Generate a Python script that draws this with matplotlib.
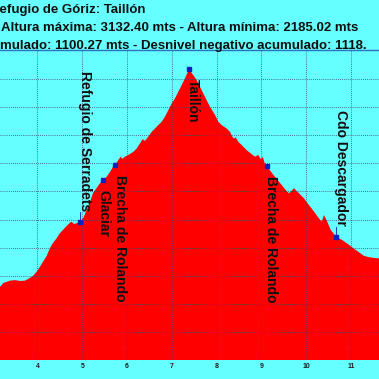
import numpy as np
import matplotlib.pyplot as plt

# profile: distance (km) / altitude (m)
dist = [3.163, 3.237, 3.386, 3.498, 3.609, 3.721, 3.833, 3.900, 3.982, 4.056,
        4.123, 4.205, 4.279, 4.346, 4.429, 4.502, 4.569, 4.652, 4.725, 4.763,
        4.815, 4.875, 4.949, 5.022, 5.098, 5.172, 5.239, 5.321, 5.395, 5.469,
        5.545, 5.619, 5.686, 5.730, 5.804, 5.857, 5.893, 5.953, 6.027, 6.138,
        6.214, 6.288, 6.348, 6.400, 6.473, 6.549, 6.623, 6.696, 6.772, 6.846,
        6.920, 6.996, 7.069, 7.143, 7.219, 7.292, 7.382, 7.478, 7.554, 7.627,
        7.739, 7.850, 7.962, 8.036, 8.112, 8.223, 8.297, 8.371, 8.424, 8.482,
        8.558, 8.670, 8.781, 8.855, 8.929, 8.989, 9.027, 9.078, 9.116, 9.234,
        9.391, 9.540, 9.614, 9.725, 9.837, 9.949, 10.060, 10.172, 10.283, 10.344,
        10.395, 10.469, 10.545, 10.674, 10.804, 10.953, 11.103, 11.288, 11.438, 11.623]
alt = [2361, 2375, 2383, 2385, 2382, 2383, 2393, 2400, 2415, 2433,
       2450, 2471, 2499, 2517, 2534, 2552, 2563, 2577, 2589, 2592,
       2584, 2587, 2590, 2605, 2634, 2663, 2694, 2712, 2729, 2740,
       2752, 2769, 2787, 2793, 2811, 2823, 2815, 2823, 2829, 2840,
       2852, 2870, 2885, 2879, 2894, 2911, 2923, 2935, 2947, 2965,
       2988, 3012, 3030, 3053, 3077, 3101, 3132.4, 3112, 3094, 3071,
       3035, 3000, 2971, 2947, 2935, 2923, 2911, 2888, 2891, 2876,
       2864, 2846, 2832, 2823, 2829, 2813, 2823, 2797, 2791, 2765,
       2734, 2705, 2693, 2711, 2693, 2675, 2651, 2628, 2604, 2592,
       2616, 2592, 2563, 2538, 2527, 2510, 2492, 2471, 2465, 2462]

# waypoints: name, km, altitude, label above (True) or below
wp_names = ["Refugio de Serradets", "Glaciar", "Brecha de Rolando", "Taillón",
            "Brecha de Rolando", "Cdo Descargador"]
wp_km = [4.949, 5.469, 5.730, 7.382, 9.116, 10.674]
wp_alt = [2590, 2740, 2793, 3132.4, 2791, 2538]
wp_above = [True, False, False, False, False, True]

title_lines = ["Refugio de Góriz: Taillón",
               "Altura máxima: 3132.40 mts - Altura mínima: 2185.02 mts",
               "mulado: 1100.27 mts - Desnivel negativo acumulado: 1118."]

plt.rcParams['font.family'] = ['Liberation Sans', 'DejaVu Sans']

fig = plt.figure(figsize=(3.79, 3.79), dpi=100)
fig.patch.set_facecolor('#66ffff')
ax = fig.add_axes([0, 0.049, 1, 0.818])
ax.set_facecolor('#66ffff')

ax.fill_between(dist, 2100, alt, color='#ff0000', lw=0, zorder=1)
ax.plot(wp_km, wp_alt, 's', ms=2.2, color='#1020c0', zorder=4)

ax.set_xlim(3.163, 11.623)
ax.set_ylim(2100, 3200)
ax.set_xticks(range(4, 12))
ax.set_yticks(np.arange(2100, 3201, 100))
ax.grid(True, color='#404068', ls=(0, (1, 1.5)), lw=0.6, zorder=2)
ax.tick_params(axis='x', length=0, pad=2, labelsize=5, labelcolor='#202020')
ax.tick_params(axis='y', length=0, labelleft=False)
for lab in ax.get_xticklabels():
    lab.set_fontweight('bold')
for s in ['left', 'right', 'bottom']:
    ax.spines[s].set_visible(False)
ax.spines['top'].set_color('#3070c0')
ax.spines['top'].set_linewidth(1)

# waypoint labels, vertical, reading downwards
x_shift = [0.11, 0.0, 0.11, 0.09, 0.10, 0.11]
for name, km, a, up, dx in zip(wp_names, wp_km, wp_alt, wp_above, x_shift):
    if up:
        ax.plot([km, km], [a, a + 35], color='#1020c0', lw=0.6, zorder=3)
        ax.text(km + dx, a + 38, name, rotation=-90, ha='center', va='bottom',
                fontsize=10, fontweight='bold', color='#101010', zorder=5)
    else:
        ax.text(km + dx, a - 35, name, rotation=-90, ha='center', va='top',
                fontsize=10, fontweight='bold', color='#101010', zorder=5)

# title block (cropped in the original)
fig.text(145 / 379, 1 - 10 / 379, title_lines[0], ha='right', va='center',
         fontsize=9.5, fontweight='bold', color='#101010')
fig.text(1 / 379, 1 - 28 / 379, title_lines[1], ha='left', va='center',
         fontsize=9.5, fontweight='bold', color='#101010')
fig.text(0 / 379, 1 - 46 / 379, title_lines[2], ha='left', va='center',
         fontsize=9.5, fontweight='bold', color='#101010')

fig.savefig('out.png', dpi=100, facecolor=fig.get_facecolor())
